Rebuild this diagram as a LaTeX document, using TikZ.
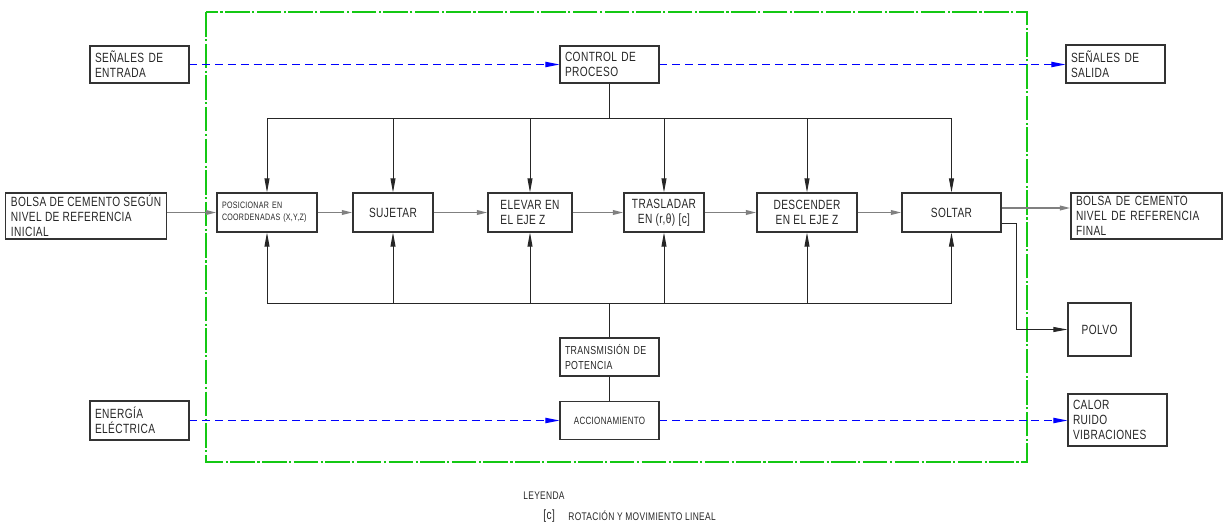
\documentclass[tikz,border=0pt]{standalone}
\usepackage{fontspec}
\setmainfont{Liberation Sans}[FakeStretch=0.76,LetterSpace=3]
\usetikzlibrary{arrows.meta}
\definecolor{verde}{RGB}{20,200,20}
\begin{document}
\begin{tikzpicture}[x=0.02cm,y=-0.02cm,
caja/.style={draw=black!80,line width=0.6pt,minimum height=0.76cm,inner xsep=0.1cm,inner ysep=0pt,text=black!85,font=\fontsize{7.6}{8.4}\selectfont},
izq/.style={caja,text width=#1,align=left},
cen/.style={caja,minimum width=#1,align=center},
ley/.style={anchor=west,inner sep=0pt,text=black!85,font=\fontsize{6.3}{7}\selectfont},
gris/.style={draw=gray,line width=1pt,-{Triangle[length=6pt,width=2.6pt]}},
negra/.style={draw=black!85,line width=0.55pt,-{Triangle[length=8pt,width=2.8pt]}},
bus/.style={draw=black!85,line width=0.55pt},
azul/.style={blue,line width=0.6pt,dash pattern=on 4.5pt off 2.8pt,-{Triangle[length=8pt,width=3pt]}}]
\useasboundingbox (0,0) rectangle (1225,525);
\draw[verde,line width=0.9pt,dash pattern=on 14pt off 1.4pt on 1.2pt off 1.4pt] (206,12) rectangle (1027,462);

\node[izq=1.78cm,minimum height=0.74cm] (entrada) at (139.5,64.5) {SEÑALES DE\\ENTRADA};
\node[izq=1.78cm,minimum height=0.74cm] (control) at (609.5,64.5) {CONTROL DE\\PROCESO};
\node[izq=1.78cm] (salida) at (1115.5,64) {SEÑALES DE\\SALIDA};
\node[caja,align=left,minimum width=3.16cm,minimum height=0.92cm] (bolsaini) at (86,216) {BOLSA DE CEMENTO SEGÚN\\NIVEL DE REFERENCIA\\INICIAL};
\node[izq=1.8cm,minimum height=0.78cm,font=\fontsize{5.3}{6.6}\selectfont] (posicionar) at (267,212.5) {POSICIONAR EN\\COORDENADAS (X,Y,Z)};
\node[cen=1.6cm,minimum height=0.78cm] (sujetar) at (393,212.5) {SUJETAR};
\node[caja,align=left,minimum width=1.68cm,minimum height=0.78cm] (elevar) at (530,212.5) {ELEVAR EN\\EL EJE Z};
\node[cen=1.6cm,minimum height=0.78cm] (trasladar) at (664,212.5) {TRASLADAR\\EN (r,θ) [c]};
\node[cen=2cm,minimum height=0.78cm] (descender) at (807,212.5) {DESCENDER\\EN EL EJE Z};
\node[cen=1.98cm,minimum height=0.78cm] (soltar) at (951.5,212.5) {SOLTAR};
\node[izq=2.82cm,minimum height=0.92cm] (bolsafin) at (1146.5,216) {BOLSA DE CEMENTO\\NIVEL DE REFERENCIA\\FINAL};
\node[cen=1.26cm,minimum height=1.06cm] (polvo) at (1099.5,329.5) {POLVO};
\node[izq=1.78cm,font=\fontsize{6.6}{8}\selectfont] (transmision) at (609.5,357) {TRANSMISIÓN DE\\POTENCIA};
\node[cen=1.98cm,font=\fontsize{6}{7}\selectfont] (accionamiento) at (609.5,420.5) {ACCIONAMIENTO};
\node[izq=1.78cm,minimum height=0.78cm] (energia) at (139.5,420.5) {ENERGÍA\\ELÉCTRICA};
\node[izq=1.78cm,minimum height=1.04cm] (calor) at (1117.5,420) {CALOR\\RUIDO\\VIBRACIONES};

\node[ley] (leyenda) at (523,496) {LEYENDA};
\node[ley,font=\fontsize{7.6}{8}\selectfont] (c) at (543,516) {[c]};
\node[ley] (rotacion) at (568,516) {ROTACIÓN Y MOVIMIENTO LINEAL};

\draw[azul] (entrada.east) -- (control.west);
\draw[azul] (control.east) -- (control.east -| salida.west);
\draw[azul] (energia.east) -- (energia.east -| accionamiento.west);
\draw[azul] (accionamiento.east) -- (accionamiento.east -| calor.west);

\draw[gris] (bolsaini.east |- posicionar) -- (posicionar.west);
\foreach \a/\b in {posicionar/sujetar,sujetar/elevar,elevar/trasladar,trasladar/descender,descender/soltar}
  \draw[gris] (\a) -- (\b);
\coordinate (s1) at ([yshift=0.09cm]soltar.east);
\draw[gris] (s1) -- (s1 -| bolsafin.west);
\coordinate (s2) at ([yshift=-0.21cm]soltar.east);
\coordinate (codo) at (1016,329.5);
\draw[negra] (s2) -| (codo) -- (polvo.west);

\coordinate (arriba) at (0,118);
\coordinate (abajo) at (0,303);
\draw[bus] (control.south) -- (control |- arriba);
\draw[bus] (arriba -| posicionar) -- (arriba -| soltar);
\draw[bus] (abajo -| posicionar) -- (abajo -| soltar);
\foreach \n in {posicionar,sujetar,elevar,trasladar,descender,soltar}{
  \draw[negra] (arriba -| \n) -- (\n.north);
  \draw[negra] (abajo -| \n) -- (\n.south);
}
\draw[bus] (transmision.north) -- (transmision |- abajo);
\draw[bus] (transmision) -- (accionamiento);
\end{tikzpicture}
\end{document}
